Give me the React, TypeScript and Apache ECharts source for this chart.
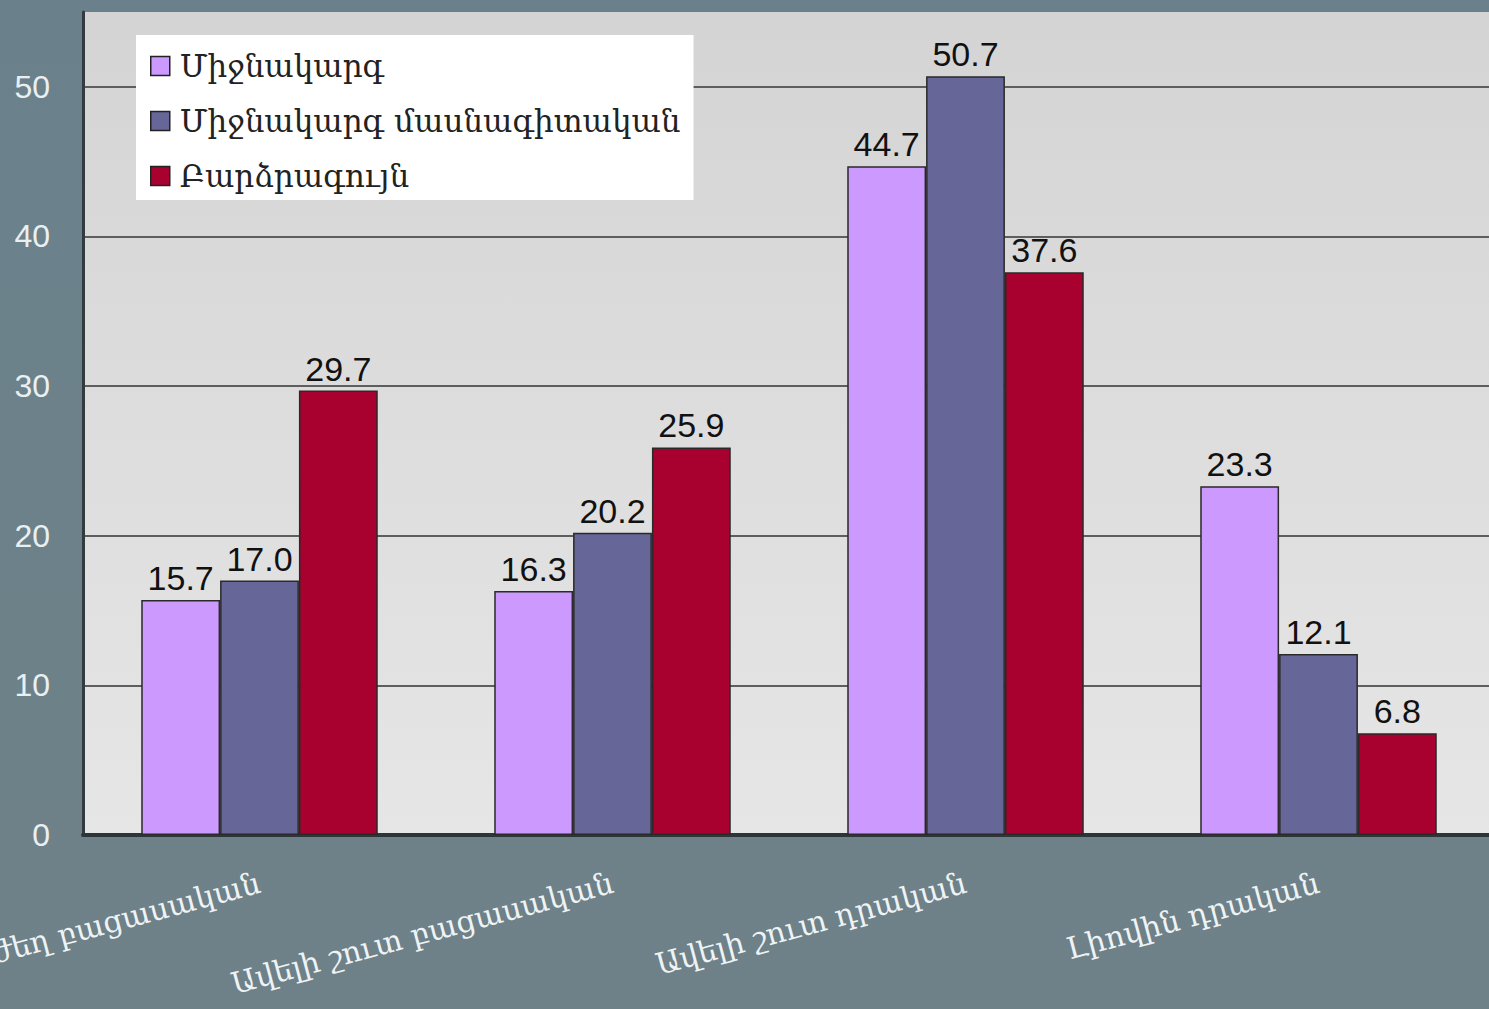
import React, { useEffect, useRef } from "react";
import * as echarts from "echarts";

const categories = [
  "Ուժեղ բացասական",
  "Ավելի շուտ բացասական",
  "Ավելի շուտ դրական",
  "Լիովին դրական",
];
const seriesNames = ["Միջնակարգ", "Միջնակարգ մասնագիտական", "Բարձրագույն"];
const secondary = [15.7, 16.3, 44.7, 23.3];
const vocational = [17.0, 20.2, 50.7, 12.1];
const higher = [29.7, 25.9, 37.6, 6.8];
const seriesColors = ["#CC99FF", "#666699", "#A8002F"];
const yTicks = [0, 10, 20, 30, 40, 50];

export default function App() {
  const ref = useRef<HTMLDivElement>(null);
  useEffect(() => {
    if (!ref.current) return;
    const chart = echarts.init(ref.current, undefined, { renderer: "svg" });
    const dataSets = [secondary, vocational, higher];
    chart.setOption({
      animation: false,
      backgroundColor: {
        type: "linear",
        x: 0, y: 0, x2: 0, y2: 1,
        colorStops: [
          { offset: 0, color: "#6a818c" },
          { offset: 1, color: "#6f8188" },
        ],
      },
      legend: {
        left: 136,
        top: 35,
        orient: "vertical",
        backgroundColor: "#ffffff",
        padding: [13, 13, 6, 14],
        itemGap: 19,
        itemWidth: 19,
        itemHeight: 19,
        icon: "rect",
        itemStyle: { borderColor: "#222", borderWidth: 1.5 },
        textStyle: {
          fontFamily: "DejaVu Serif, DejaVu Sans, serif",
          fontSize: 31,
          lineHeight: 36,
          color: "#222",
          padding: [0, 0, 0, 5],
        },
        data: seriesNames,
      },
      grid: {
        left: 83, top: 12, right: -6, bottom: 174,
        outerBoundsMode: "none",
        containLabel: false,
        show: true,
        borderWidth: 0,
        backgroundColor: {
          type: "linear",
          x: 0, y: 0, x2: 0, y2: 1,
          colorStops: [
            { offset: 0, color: "#d4d4d4" },
            { offset: 1, color: "#e6e6e6" },
          ],
        },
      },
      xAxis: {
        type: "category",
        data: categories,
        axisTick: { show: false },
        axisLine: { show: true, lineStyle: { color: "#2c3538", width: 4 } },
        axisLabel: {
          rotate: 15,
          margin: 47,
          color: "#eef3f5",
          fontSize: 30,
          fontFamily: "DejaVu Serif, DejaVu Sans, serif",
          interval: 0,
        },
      },
      yAxis: {
        type: "value",
        min: 0,
        max: 55,
        interval: 10,
        axisLine: { show: true, lineStyle: { color: "#333b3e", width: 3 } },
        axisTick: { show: false },
        splitLine: { show: true, showMaxLine: false, lineStyle: { color: "#5e5e5e", width: 2 } },
        axisLabel: {
          showMaxLabel: false,
          margin: 33,
          color: "#eaf0f2",
          fontSize: 32,
          fontFamily: "Liberation Sans, Arial, sans-serif",
          formatter: (v: number) => (yTicks.includes(v) ? String(v) : ""),
        },
      },
      series: seriesNames.map((name, i) => ({
        name,
        type: "bar",
        data: dataSets[i],
        barGap: "0%",
        barCategoryGap: "33%",
        itemStyle: { color: seriesColors[i], borderColor: "#2a2a2a", borderWidth: 1.5 },
        label: {
          show: true,
          position: "top",
          distance: 5,
          color: "#111",
          fontSize: 34,
          fontFamily: "Liberation Sans, Arial, sans-serif",
          formatter: (p: any) => Number(p.value).toFixed(1),
        },
      })),
    });
    return () => chart.dispose();
  }, []);
  return <div ref={ref} style={{ width: 1489, height: 1009, position: "absolute", left: 0, top: 0 }} />;
}
